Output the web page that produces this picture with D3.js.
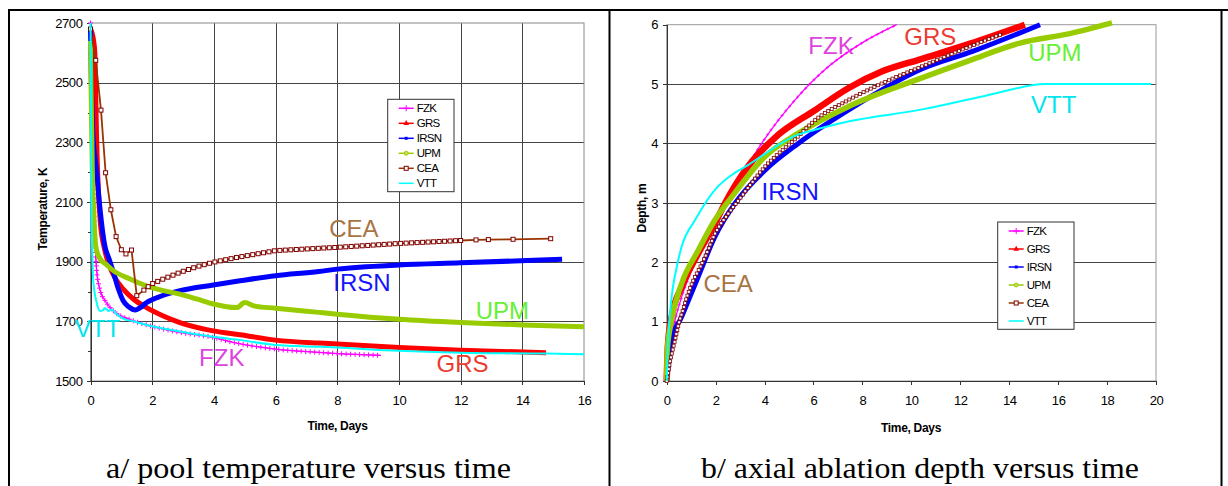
<!DOCTYPE html>
<html>
<head>
<meta charset="utf-8">
<style>
    body { margin: 0; background: #fff; }
    svg { display: block; font-family: "Liberation Sans", Arial, sans-serif; }
    .grid line { stroke: #444; stroke-width: 1; shape-rendering: crispEdges; }
    .grid path { display: none; }
    .axis path, .axis line { stroke: #333; shape-rendering: crispEdges; }
    .axis text { font-family: "Liberation Sans", Arial, sans-serif; font-size: 13px; fill: #000; letter-spacing: -0.4px; }
    .note { font-size: 24px; }
    .legend text { font-size: 11.5px; letter-spacing: -0.7px; }
    .caption { font-family: "Liberation Serif", "Times New Roman", serif; font-size: 29px; }
    .title { font-size: 12px; font-weight: bold; letter-spacing: -0.3px; }
</style>
</head>
<body>
<script src="https://d3js.org/d3.v7.min.js"></script>
<div id="chart"></div>
<script>
var seriesNames = ["FZK", "GRS", "IRSN", "UPM", "CEA", "VTT"];

// a/ pool temperature (days, K)
var tempFZK = [[0,2700],[0.03,2500],[0.06,2300],[0.1,2100],[0.15,1960],[0.2,1870],[0.31,1805],[0.5,1765],[0.8,1730],[1.28,1706],[1.82,1688],[2.9,1663],[3.98,1646],[4.6,1630],[6,1607],[7.4,1596],[8,1592],[9.42,1586]];
var tempGRS = [[0,2680],[0.1,2640],[0.14,2600],[0.17,2450],[0.2,2300],[0.25,2150],[0.32,2030],[0.45,1945],[0.6,1890],[0.8,1845],[1.06,1808],[1.39,1775],[1.82,1746],[2.36,1718],[2.9,1696],[3.98,1668],[4.85,1655],[6,1637],[7.4,1627],[8,1624],[10,1612],[12,1603],[14.77,1595]];
var tempIRSN = [[0,2680],[0.03,2500],[0.07,2340],[0.2,2200],[0.31,2075],[0.47,1950],[0.6,1910],[0.74,1865],[0.9,1810],[1.06,1769],[1.25,1748],[1.45,1738],[1.6,1745],[1.82,1763],[2.3,1785],[2.9,1803],[3.98,1822],[4.85,1836],[6,1853],[7.4,1867],[8,1875],[10,1889],[12,1896],[15.29,1908]];
var tempUPM = [[0,2640],[0.03,2400],[0.06,2200],[0.1,2075],[0.15,1971],[0.2,1937],[0.31,1910],[0.52,1890],[0.74,1870],[1.28,1842],[1.82,1819],[2.36,1803],[2.9,1791],[3.44,1775],[3.98,1758],[4.74,1746],[5.0,1763],[5.3,1752],[6,1744],[7.4,1730],[8,1724],[10,1707],[12,1696],[14,1688],[16,1682]];
var tempCEA = [[0,2680],[0.17,2575],[0.34,2408],[0.49,2198],[0.66,2074],[0.83,1984],[1.0,1940],[1.15,1926],[1.33,1939],[1.5,1786],[1.71,1803],[1.98,1825],[2.36,1842],[2.9,1864],[3.44,1883],[3.98,1898],[4.74,1914],[6,1937],[7.43,1945],[8,1948],[10,1961],[12,1971],[12.5,1973],[12.9,1974],[13.7,1975],[14.92,1977]];
var tempVTT = [[0,2700],[0.02,2400],[0.03,2100],[0.05,1960],[0.09,1836],[0.2,1763],[0.31,1735],[0.4,1737],[0.47,1745],[0.58,1735],[0.69,1740],[0.85,1724],[1.06,1709],[1.39,1700],[1.82,1688],[2.9,1666],[3.98,1648],[4.85,1637],[6,1621],[7.4,1615],[8,1612],[10,1601],[12,1595],[14.8,1592],[16,1590]];

// b/ axial ablation depth (days, m)
var depthFZK = [[0,0],[0.1,0.5],[0.3,0.95],[0.6,1.4],[1,1.85],[1.5,2.35],[2,2.75],[2.5,3.1],[3.2,3.55],[3.88,4.0],[5.24,4.73],[6.6,5.29],[7.97,5.69],[9.4,6.0]];
var depthGRS = [[0,0],[0.05,0.6],[0.2,1.08],[0.61,1.58],[1.29,2.15],[1.97,2.65],[2.38,2.99],[3.34,3.62],[4.43,4.1],[6.06,4.56],[7.42,4.93],[8.79,5.21],[10.4,5.42],[12.4,5.68],[14.64,6.0]];
var depthIRSN = [[0,0],[0.2,0.69],[0.61,1.08],[1.29,1.76],[1.97,2.43],[2.79,2.99],[4.02,3.55],[5.38,4.0],[7.42,4.56],[10.4,5.25],[12.5,5.55],[15.26,6.0]];
var depthUPM = [[0,0],[0.02,0.5],[0.2,1.03],[0.61,1.64],[1.29,2.2],[1.97,2.71],[2.66,3.1],[4.02,3.78],[5.37,4.17],[7.42,4.62],[10.4,5.1],[12.4,5.4],[14.44,5.69],[16.48,5.85],[18.2,6.03]];
var depthCEA = [[0,0],[0.15,0.35],[0.34,0.69],[0.5,0.97],[0.68,1.22],[0.84,1.43],[1.02,1.63],[1.42,1.96],[1.58,2.1],[2.0,2.5],[2.52,2.82],[2.89,3.02],[4,3.6],[5.37,4.12],[6.06,4.39],[7.42,4.73],[8.79,5.01],[10.56,5.32],[12.2,5.6],[13.75,5.85]];
var depthVTT = [[0,0],[0.05,0.6],[0.15,1.2],[0.41,1.92],[0.61,2.26],[1.16,2.71],[1.97,3.22],[2.66,3.47],[3.34,3.64],[4.43,3.94],[5.2,4.12],[6.06,4.23],[7.42,4.37],[10.4,4.57],[13,4.8],[15.5,5.0],[19.8,5.0]];

// ticks
var timeTicksA = [0, 2, 4, 6, 8, 10, 12, 14, 16];
var tempTicks = [1500, 1700, 1900, 2100, 2300, 2500, 2700];
var tempMinor = [1600, 1800, 2000, 2200, 2400, 2600];
var timeTicksB = [0, 2, 4, 6, 8, 10, 12, 14, 16, 18, 20];
var depthTicks = [0, 1, 2, 3, 4, 5, 6];

// in-plot labels [name, time, value]
var tempLabels = [["CEA",7.74,1984],["IRSN",7.87,1803],["UPM",12.49,1708],["GRS",11.22,1531],["FZK",3.52,1551],["VTT",-0.5,1647]];
var depthLabels = [["FZK",5.79,5.51],["GRS",9.71,5.66],["UPM",14.78,5.39],["VTT",14.89,4.51],["IRSN",3.88,3.05],["CEA",1.5,1.5]];

var lineColor = {FZK: "#ff00ff", GRS: "#ff0000", IRSN: "#0000ff", UPM: "#99cc00", CEA: "#993300", VTT: "#00ffff"};
var noteColor = {FZK: "#dd44dd", GRS: "#ec3b30", IRSN: "#1414ff", UPM: "#66f033", CEA: "#a87443", VTT: "#00e5ee"};

var svg = d3.select("#chart").append("svg")
    .attr("width", 1228)
    .attr("height", 486);

// table frame
svg.append("path")
    .attr("d", "M9,486V10H1228M609.5,10V486M1221.5,10V486")
    .attr("fill", "none")
    .attr("stroke", "#000")
    .attr("stroke-width", 2);

function samplePath(node, step) {
    var len = node.getTotalLength(), pts = [];
    for (var l = 0; l <= len; l += step) {
        var p = node.getPointAtLength(l);
        pts.push([p.x, p.y]);
    }
    return pts;
}

function drawPlus(g, pts, color, s, w) {
    g.selectAll(null).data(pts).enter().append("path")
        .attr("d", function(p) { return "M" + (p[0]-s) + "," + p[1] + "h" + (2*s) + "M" + p[0] + "," + (p[1]-s) + "v" + (2*s); })
        .attr("stroke", color).attr("stroke-width", w).attr("fill", "none");
}

function drawSquares(g, pts, color, s, w) {
    g.selectAll(null).data(pts).enter().append("rect")
        .attr("x", function(p) { return p[0] - s/2; })
        .attr("y", function(p) { return p[1] - s/2; })
        .attr("width", s).attr("height", s)
        .attr("fill", "#fff").attr("stroke", color).attr("stroke-width", w);
}

function legendBox(x0, y0, w, h, step) {
    var g = svg.append("g").attr("class", "legend");
    g.append("rect").attr("x", x0).attr("y", y0).attr("width", w).attr("height", h)
        .attr("fill", "#fff").attr("stroke", "#333").attr("stroke-width", 1);
    seriesNames.forEach(function(name, i) {
        var cy = y0 + 9 + i * step, lx = x0 + 11;
        g.append("line").attr("x1", lx).attr("x2", lx + 15).attr("y1", cy).attr("y2", cy)
            .attr("stroke", lineColor[name]).attr("stroke-width", 1.5);
        var cx = lx + 7.5;
        if (name === "FZK") drawPlus(g, [[cx, cy]], lineColor[name], 3, 1);
        if (name === "GRS") g.append("path").attr("d", d3.symbol(d3.symbolTriangle, 14)()).attr("transform", "translate(" + cx + "," + cy + ")").attr("fill", "#ff0000");
        if (name === "IRSN") g.append("rect").attr("x", cx - 1.5).attr("y", cy - 1.5).attr("width", 3).attr("height", 3).attr("fill", "#0000ff");
        if (name === "UPM") g.append("circle").attr("cx", cx).attr("cy", cy).attr("r", 2).attr("fill", "#ccdd66").attr("stroke", "#99cc00");
        if (name === "CEA") drawSquares(g, [[cx, cy]], "#800000", 4, 1);
        g.append("text").attr("x", lx + 18).attr("y", cy).attr("dy", "0.36em").text(name);
    });
}

var plain = d3.format("d");

// ---------- panel a: pool temperature ----------
var xA = d3.scaleLinear().domain([0, 16]).range([90.5, 584]);
var yA = d3.scaleLinear().domain([1500, 2700]).range([381, 23]);

svg.append("g").attr("class", "grid")
    .attr("transform", "translate(0," + yA(1500) + ")")
    .call(d3.axisBottom(xA).tickValues(timeTicksA.slice(1, -1)).tickSize(-(yA(1500) - yA(2700))).tickFormat(""));
svg.append("g").attr("class", "grid")
    .attr("transform", "translate(" + xA(0) + ",0)")
    .call(d3.axisLeft(yA).tickValues(tempTicks.slice(1, -1)).tickSize(-(xA(16) - xA(0))).tickFormat(""));
svg.append("rect")
    .attr("x", xA(0)).attr("y", yA(2700))
    .attr("width", xA(16) - xA(0)).attr("height", yA(1500) - yA(2700))
    .attr("fill", "none").attr("stroke", "#888");

svg.append("g").attr("class", "axis")
    .attr("transform", "translate(0," + yA(1500) + ")")
    .call(d3.axisBottom(xA).tickValues(timeTicksA).tickFormat(plain).tickSize(4).tickPadding(11).tickSizeOuter(0));
svg.append("g").attr("class", "axis")
    .attr("transform", "translate(" + xA(0) + ",0)")
    .call(d3.axisLeft(yA).tickValues(tempMinor).tickSize(3).tickFormat("").tickSizeOuter(0));
svg.append("g").attr("class", "axis")
    .attr("transform", "translate(" + xA(0) + ",0)")
    .call(d3.axisLeft(yA).tickValues(tempTicks).tickFormat(plain).tickSize(4).tickPadding(4).tickSizeOuter(0));

var lineA = d3.line().x(function(d) { return xA(d[0]); }).y(function(d) { return yA(d[1]); }).curve(d3.curveMonotoneX);
var lineAlin = d3.line().x(function(d) { return xA(d[0]); }).y(function(d) { return yA(d[1]); });

var gA = svg.append("g");
var fzkA = gA.append("path").datum(tempFZK).attr("d", lineA).attr("fill", "none").attr("stroke", lineColor.FZK).attr("stroke-width", 1.2);
drawPlus(gA, samplePath(fzkA.node(), 4.5), lineColor.FZK, 2.5, 1);
gA.append("path").datum(tempGRS).attr("d", lineA).attr("fill", "none").attr("stroke", lineColor.GRS).attr("stroke-width", 5);
gA.append("path").datum(tempIRSN).attr("d", lineA).attr("fill", "none").attr("stroke", lineColor.IRSN).attr("stroke-width", 5);
gA.append("path").datum(tempUPM).attr("d", lineA).attr("fill", "none").attr("stroke", lineColor.UPM).attr("stroke-width", 5);
var ceaA = gA.append("path").datum(tempCEA).attr("d", lineAlin).attr("fill", "none").attr("stroke", lineColor.CEA).attr("stroke-width", 1.8);
var ceaPts = tempCEA.filter(function(d) { return d[0] <= 1.5 || d[0] >= 12; }).map(function(d) { return [xA(d[0]), yA(d[1])]; });
ceaPts = ceaPts.concat(samplePath(ceaA.node(), 5.5).filter(function(p) { return p[0] > xA(1.6) && p[0] < xA(12); }));
drawSquares(gA, ceaPts, "#800000", 4, 1);
gA.append("path").datum(tempVTT).attr("d", lineA).attr("fill", "none").attr("stroke", lineColor.VTT).attr("stroke-width", 2);

svg.append("g").selectAll("text").data(tempLabels).enter().append("text")
    .attr("class", "note")
    .attr("x", function(d) { return xA(d[1]); })
    .attr("y", function(d) { return yA(d[2]); })
    .attr("fill", function(d) { return noteColor[d[0]]; })
    .text(function(d) { return d[0]; });

legendBox(387.7, 99.3, 66.3, 92.4, 15);

svg.append("text").attr("class", "title")
    .attr("transform", "translate(46.8,209) rotate(-90)")
    .attr("text-anchor", "middle").text("Temperature, K");
svg.append("text").attr("class", "title")
    .attr("x", 337.5).attr("y", 430).attr("text-anchor", "middle").text("Time, Days");

// ---------- panel b: axial ablation depth ----------
var xB = d3.scaleLinear().domain([0, 20]).range([666.7, 1156]);
var yB = d3.scaleLinear().domain([0, 6]).range([381, 24.7]);

svg.append("g").attr("class", "grid")
    .attr("transform", "translate(" + xB(0) + ",0)")
    .call(d3.axisLeft(yB).tickValues(depthTicks.slice(1, -1)).tickSize(-(xB(20) - xB(0))).tickFormat(""));
svg.append("rect")
    .attr("x", xB(0)).attr("y", yB(6))
    .attr("width", xB(20) - xB(0)).attr("height", yB(0) - yB(6))
    .attr("fill", "none").attr("stroke", "#999");

svg.append("g").attr("class", "axis")
    .attr("transform", "translate(0," + yB(0) + ")")
    .call(d3.axisBottom(xB).tickValues(timeTicksB).tickFormat(plain).tickSize(4).tickPadding(11).tickSizeOuter(0));
svg.append("g").attr("class", "axis")
    .attr("transform", "translate(" + xB(0) + ",0)")
    .call(d3.axisLeft(yB).tickValues(depthTicks).tickFormat(plain).tickSize(4).tickPadding(4.5).tickSizeOuter(0));

var lineB = d3.line().x(function(d) { return xB(d[0]); }).y(function(d) { return yB(d[1]); }).curve(d3.curveMonotoneX);

var gB = svg.append("g");
var fzkB = gB.append("path").datum(depthFZK).attr("d", lineB).attr("fill", "none").attr("stroke", lineColor.FZK).attr("stroke-width", 1.3);
drawPlus(gB, samplePath(fzkB.node(), 6), lineColor.FZK, 1.5, 0.8);
gB.append("path").datum(depthGRS).attr("d", lineB).attr("fill", "none").attr("stroke", lineColor.GRS).attr("stroke-width", 6.5);
gB.append("path").datum(depthIRSN).attr("d", lineB).attr("fill", "none").attr("stroke", lineColor.IRSN).attr("stroke-width", 5);
gB.append("path").datum(depthUPM).attr("d", lineB).attr("fill", "none").attr("stroke", lineColor.UPM).attr("stroke-width", 5.5);
var ceaB = gB.append("path").datum(depthCEA).attr("d", lineB).attr("fill", "none").attr("stroke", "#800000").attr("stroke-width", 1);
drawSquares(gB, samplePath(ceaB.node(), 4), "#800000", 3, 0.8);
gB.append("path").datum(depthVTT).attr("d", lineB).attr("fill", "none").attr("stroke", lineColor.VTT).attr("stroke-width", 2);

svg.append("g").selectAll("text").data(depthLabels).enter().append("text")
    .attr("class", "note")
    .attr("x", function(d) { return xB(d[1]); })
    .attr("y", function(d) { return yB(d[2]); })
    .attr("fill", function(d) { return noteColor[d[0]]; })
    .text(function(d) { return d[0]; });

legendBox(997.7, 222, 76.3, 107.3, 18);

svg.append("text").attr("class", "title")
    .attr("transform", "translate(645.8,208) rotate(-90)")
    .attr("text-anchor", "middle").text("Depth, m");
svg.append("text").attr("class", "title")
    .attr("x", 911).attr("y", 432).attr("text-anchor", "middle").text("Time, Days");

// captions
svg.append("text").attr("class", "caption")
    .attr("x", 308.5).attr("y", 478).attr("text-anchor", "middle")
    .attr("textLength", 405).attr("lengthAdjust", "spacingAndGlyphs")
    .text("a/ pool temperature versus time");
svg.append("text").attr("class", "caption")
    .attr("x", 920).attr("y", 478).attr("text-anchor", "middle")
    .attr("textLength", 438).attr("lengthAdjust", "spacingAndGlyphs")
    .text("b/ axial ablation depth versus time");
</script>
</body>
</html>
